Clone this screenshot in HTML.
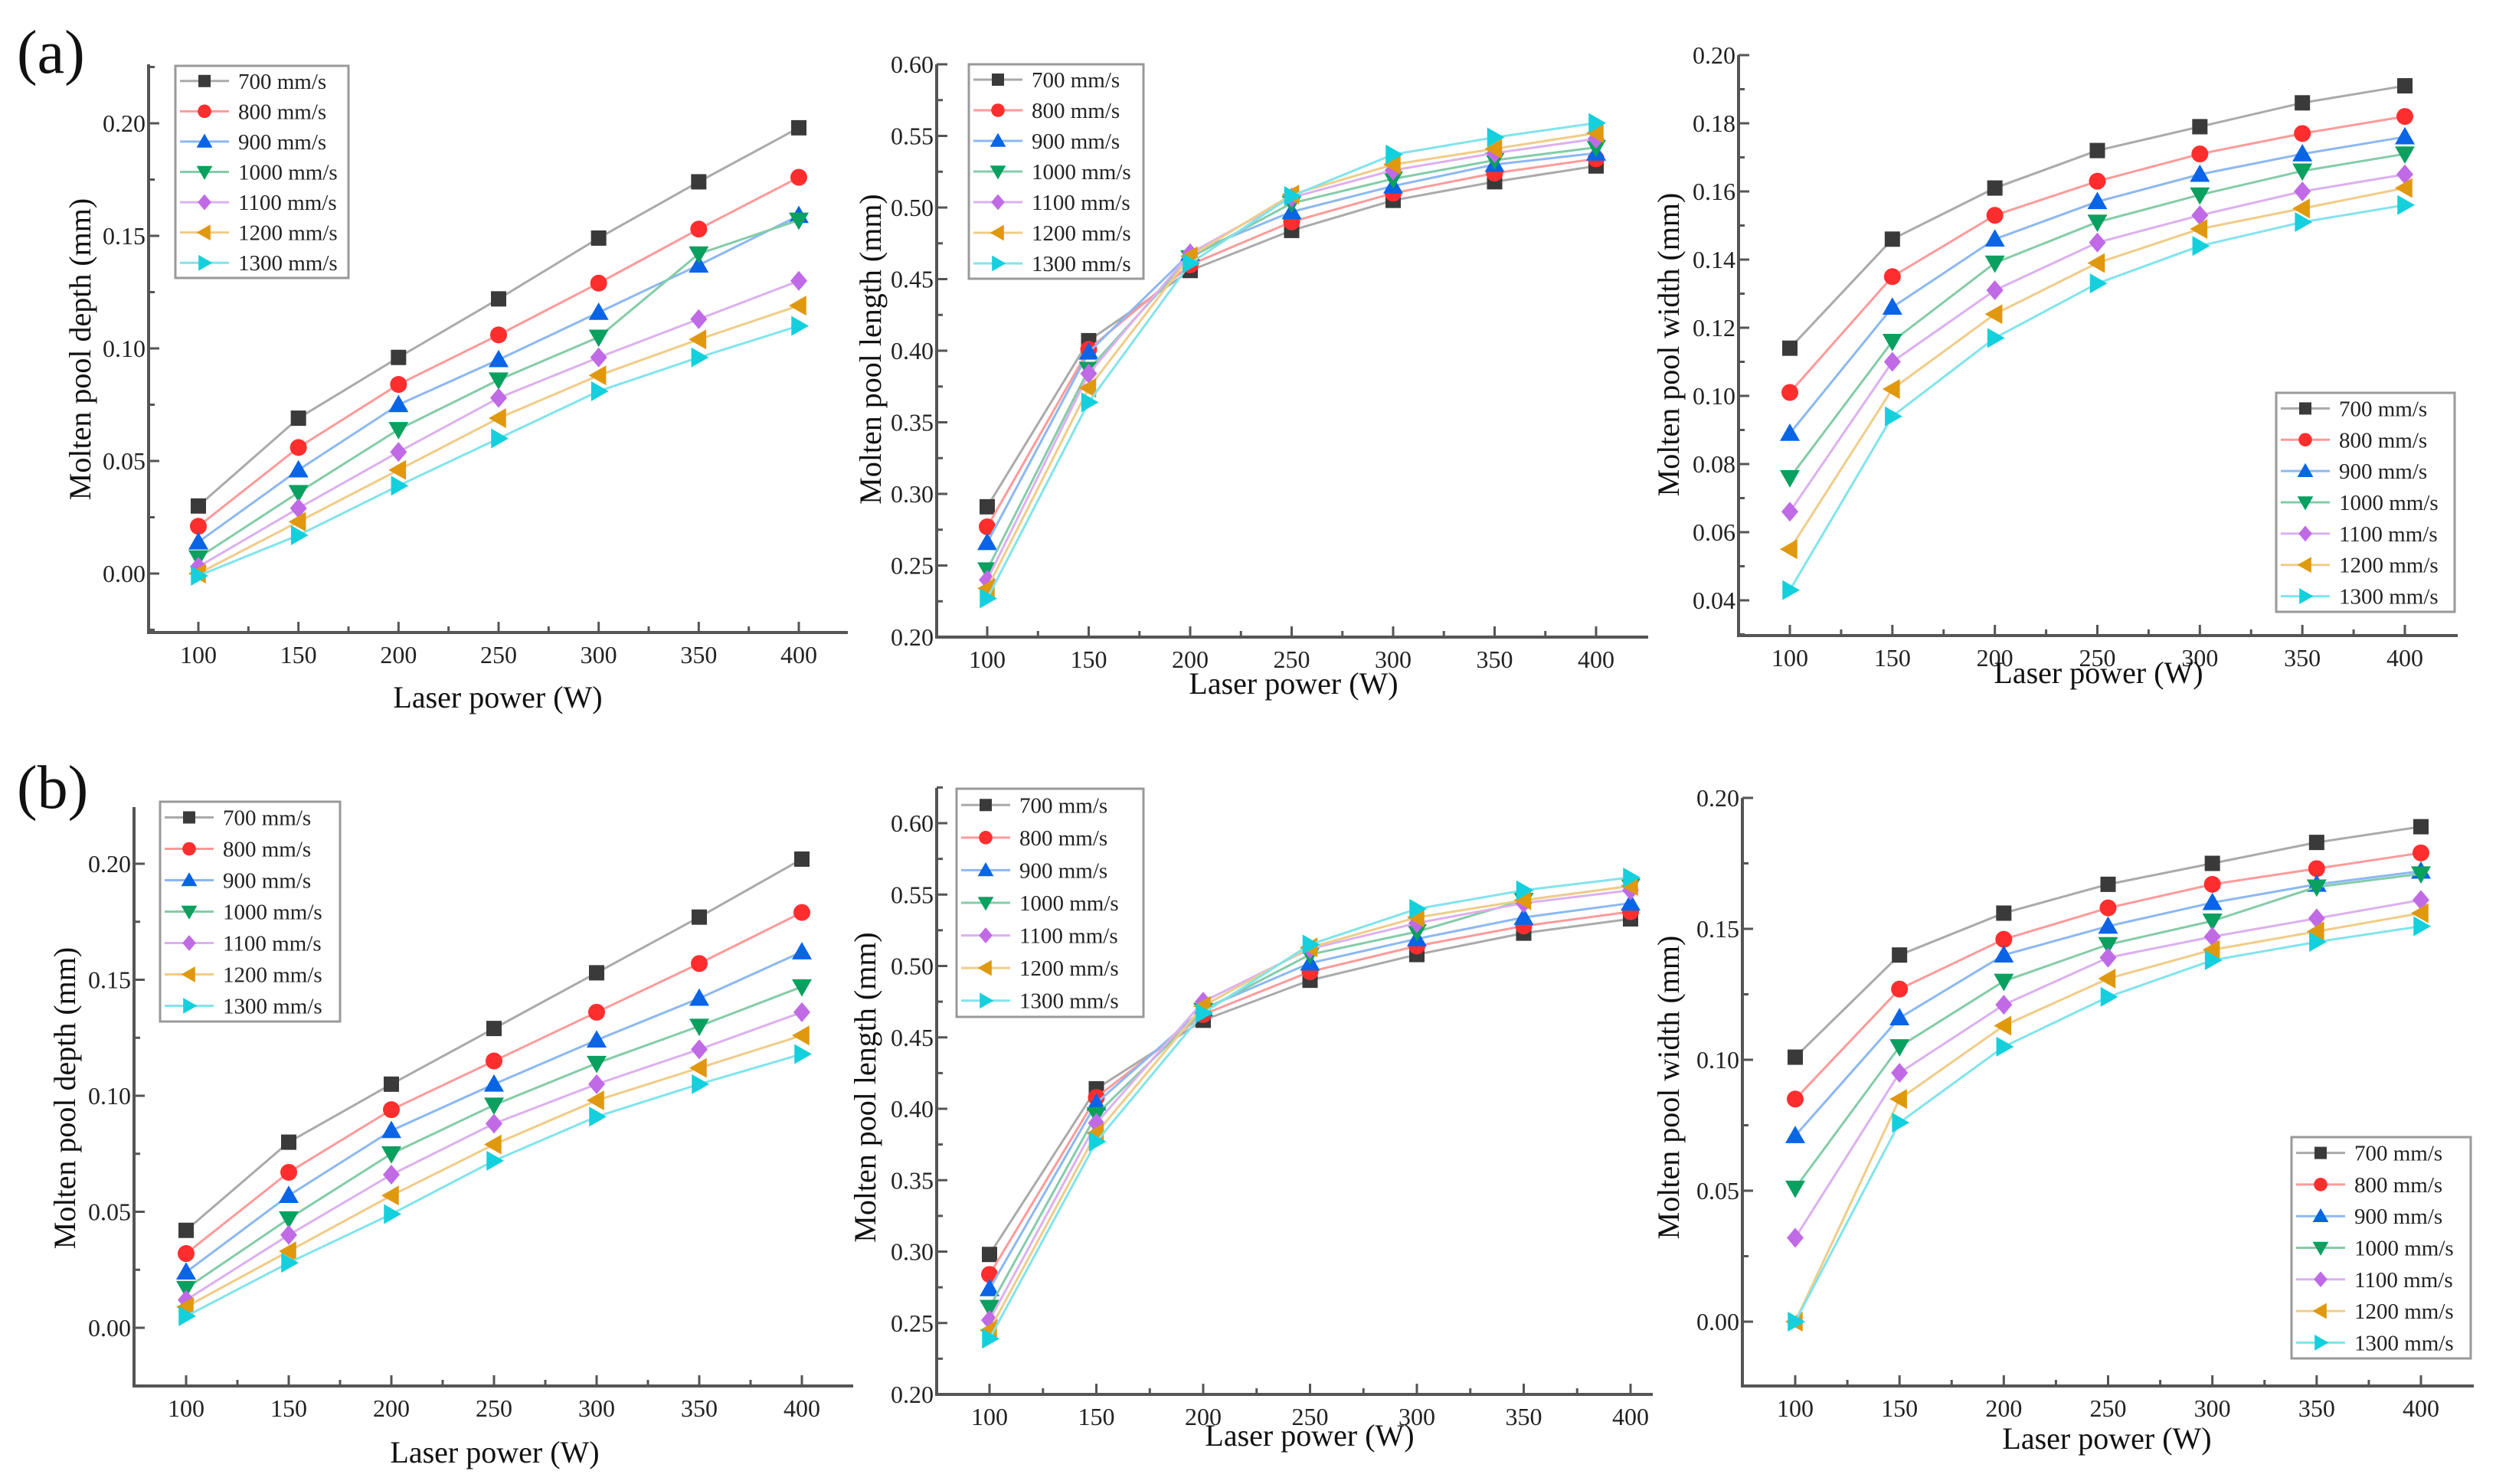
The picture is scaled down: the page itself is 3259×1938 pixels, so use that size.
<!DOCTYPE html>
<html><head><meta charset="utf-8"><style>
html,body{margin:0;padding:0;background:#fff;}
svg{display:block;font-family:"Liberation Serif","DejaVu Serif",serif;}
svg text{font-family:"Liberation Serif","DejaVu Serif",serif;}
</style></head><body>
<svg id="fig" width="3259" height="1938" viewBox="0 0 3259 1938" xmlns="http://www.w3.org/2000/svg" font-family="Liberation Serif, DejaVu Serif, serif">
<rect width="3259" height="1938" fill="#fff"/>
<text x="22" y="95" font-size="80" fill="#111" font-family="Liberation Serif, serif">(a)</text>
<text x="22" y="1055" font-size="80" fill="#111" font-family="Liberation Serif, serif">(b)</text>
</svg>
<script>
const xValues = [100,150,200,250,300,350,400];
const seriesNames = ["700 mm/s","800 mm/s","900 mm/s","1000 mm/s","1100 mm/s","1200 mm/s","1300 mm/s"];
const depthA = [
 [.030,.069,.096,.122,.149,.174,.198],
 [.021,.056,.084,.106,.129,.153,.176],
 [.014,.046,.075,.095,.116,.137,.159],
 [.007,.036,.064,.086,.105,.142,.157],
 [.003,.029,.054,.078,.096,.113,.130],
 [.000,.023,.046,.069,.088,.104,.119],
 [-.001,.017,.039,.060,.081,.096,.110]];
const lengthA = [
 [.291,.407,.456,.484,.505,.518,.529],
 [.277,.401,.460,.490,.510,.524,.534],
 [.266,.399,.468,.497,.515,.530,.538],
 [.247,.387,.465,.503,.520,.533,.542],
 [.240,.384,.468,.507,.526,.538,.548],
 [.234,.374,.466,.509,.530,.541,.552],
 [.227,.364,.461,.508,.537,.549,.559]];
const widthA = [
 [.114,.146,.161,.172,.179,.186,.191],
 [.101,.135,.153,.163,.171,.177,.182],
 [.089,.126,.146,.157,.165,.171,.176],
 [.076,.116,.139,.151,.159,.166,.171],
 [.066,.110,.131,.145,.153,.160,.165],
 [.055,.102,.124,.139,.149,.155,.161],
 [.043,.094,.117,.133,.144,.151,.156]];
const depthB = [
 [.042,.080,.105,.129,.153,.177,.202],
 [.032,.067,.094,.115,.136,.157,.179],
 [.024,.057,.085,.105,.124,.142,.162],
 [.017,.047,.075,.096,.114,.130,.147],
 [.012,.040,.066,.088,.105,.120,.136],
 [.009,.033,.057,.079,.098,.112,.126],
 [.005,.028,.049,.072,.091,.105,.118]];
const lengthB = [
 [.298,.414,.462,.490,.508,.523,.533],
 [.284,.408,.466,.496,.514,.528,.538],
 [.274,.404,.470,.502,.519,.534,.544],
 [.261,.396,.469,.508,.524,.546,.556],
 [.252,.390,.475,.512,.530,.544,.553],
 [.245,.383,.472,.513,.534,.546,.556],
 [.239,.377,.467,.515,.540,.553,.562]];
const widthB = [
 [.101,.140,.156,.167,.175,.183,.189],
 [.085,.127,.146,.158,.167,.173,.179],
 [.071,.116,.140,.151,.160,.167,.172],
 [.051,.105,.130,.144,.153,.166,.171],
 [.032,.095,.121,.139,.147,.154,.161],
 [.000,.085,.113,.131,.142,.149,.156],
 [.000,.076,.105,.124,.138,.145,.151]];
const yTicksDepth = [0,0.05,0.10,0.15,0.20];
const yTicksLength = [0.20,0.25,0.30,0.35,0.40,0.45,0.50,0.55,0.60];
const yTicksWidthA = [0.04,0.06,0.08,0.10,0.12,0.14,0.16,0.18,0.20];
const yTicksWidthB = [0,0.05,0.10,0.15,0.20];

const colors = ["#3a3a3a","#ff2e2e","#0a64e6","#0aa060","#c06ae6","#e0980e","#14d0dc"];
const lineColors = ["#aaaaaa","#ff9a9a","#8cb8f2","#84cca8","#dcb0f0","#f0cc88","#80e4ec"];
const shapes = ["square","circle","up","down","diamond","left","right"];
const NS = "http://www.w3.org/2000/svg";
const FF = "Liberation Serif, DejaVu Serif, serif";
const svg = document.getElementById("fig");
function mk(tag, attrs, parent){const e=document.createElementNS(NS,tag);for(const k in attrs)e.setAttribute(k,attrs[k]);if(tag==="text")e.setAttribute("font-family",FF);(parent||svg).appendChild(e);return e;}

function marker(g, shape, cx, cy, col, s){
  let e;
  if(shape==="square") e=mk("rect",{x:cx-s,y:cy-s,width:2*s,height:2*s,fill:col},g);
  else if(shape==="circle") e=mk("circle",{cx:cx,cy:cy,r:s*1.1,fill:col},g);
  else if(shape==="diamond") e=mk("polygon",{points:`${cx},${cy-s*1.3} ${cx+s*1.1},${cy} ${cx},${cy+s*1.3} ${cx-s*1.1},${cy}`,fill:col},g);
  else {
    const r=s*1.3; let p;
    if(shape==="up") p=[[cx,cy-r],[cx+r,cy+r*0.75],[cx-r,cy+r*0.75]];
    if(shape==="down") p=[[cx,cy+r],[cx+r,cy-r*0.75],[cx-r,cy-r*0.75]];
    if(shape==="left") p=[[cx-r,cy],[cx+r*0.75,cy-r],[cx+r*0.75,cy+r]];
    if(shape==="right") p=[[cx+r,cy],[cx-r*0.75,cy-r],[cx-r*0.75,cy+r]];
    e=mk("polygon",{points:p.map(q=>q.join(",")).join(" "),fill:col},g);
  }
  return e;
}

function panel(cfg){
  const g = mk("g",{});
  
  
  const X = v => cfg.x100 + (v-100)/300*(cfg.x400-cfg.x100);
  const Y = v => cfg.yLoPix + (v-cfg.yLo)/(cfg.yHi-cfg.yLo)*(cfg.yHiPix-cfg.yLoPix);
  const ax = mk("path",{d:`M${cfg.left},${cfg.top} L${cfg.left},${cfg.bottom} L${cfg.right},${cfg.bottom}`,fill:"none",stroke:"#555","stroke-width":4},g);
  
  
  for(let v=100; v<=400+1e-9; v+=25){
    const major = (v%50===0);
    mk("line",{x1:X(v),x2:X(v),y1:cfg.bottom,y2:cfg.bottom-(major?14:8),stroke:"#555","stroke-width":3},g);
  }
  xValues.forEach(v=>{
    const t=mk("text",{x:X(v),y:cfg.bottom+40,"font-size":32,"text-anchor":"middle",fill:"#222"},g);
    t.textContent=v;
    
    
  });
  const step = cfg.yTicks[1]-cfg.yTicks[0];
  for(let i=0;i<cfg.yTicks.length;i++){
    const v=cfg.yTicks[i];
    mk("line",{x1:cfg.left,x2:cfg.left+14,y1:Y(v),y2:Y(v),stroke:"#555","stroke-width":3},g);
    const mv=v+step/2; const py=Y(mv);
    if(py>=cfg.top-1) mk("line",{x1:cfg.left,x2:cfg.left+8,y1:py,y2:py,stroke:"#555","stroke-width":3},g);
    const py2=Y(v-step/2);
    if(i===0 && py2<=cfg.bottom) mk("line",{x1:cfg.left,x2:cfg.left+8,y1:py2,y2:py2,stroke:"#555","stroke-width":3},g);
    const t=mk("text",{x:cfg.left-4,y:Y(v)+11,"font-size":32,"text-anchor":"end",fill:"#222"},g);
    t.textContent=v.toFixed(2);
    
    
  }
  const xt=mk("text",{x:cfg.xtx,y:cfg.xty,"font-size":40,"text-anchor":"middle",fill:"#111"},g);
  xt.textContent="Laser power (W)";
  
  
  const yt=mk("text",{x:0,y:0,"font-size":40,"text-anchor":"middle",fill:"#111",transform:`translate(${cfg.ytx},${cfg.yty}) rotate(-90)`},g);
  yt.textContent=cfg.ytitle;
  
  
  cfg.data.forEach((vals,si)=>{
    const sg=mk("g",{},g);
    
    
    mk("polyline",{points:vals.map((v,i)=>X(xValues[i])+","+Y(v)).join(" "),fill:"none",stroke:lineColors[si],"stroke-width":3},sg);
    vals.forEach((v,i)=>{
      const m=marker(sg,shapes[si],X(xValues[i]),Y(v),colors[si],10);
      
      
    });
  });
  const L=cfg.legend;
  const lg=mk("g",{},g);
  
  
  mk("rect",{x:L.x,y:L.y,width:L.w,height:L.h,fill:"#fff",stroke:"#999","stroke-width":3},lg);
  const rowH=L.h/7;
  seriesNames.forEach((n,i)=>{
    const cy=L.y+rowH*(i+0.5);
    const eg=mk("g",{},lg);
    
    
    mk("line",{x1:L.x+6,x2:L.x+70,y1:cy,y2:cy,stroke:lineColors[i],"stroke-width":3},eg);
    marker(eg,shapes[i],L.x+38,cy,colors[i],8);
    const t=mk("text",{x:L.x+82,y:cy+10,"font-size":29,fill:"#222"},eg);
    t.textContent=n;
  });
}

panel({name:"chart-depth-a",left:194,right:1107,top:84,bottom:826,x100:259,x400:1043,yLo:0,yHi:0.20,yLoPix:749,yHiPix:161,
  yTicks:yTicksDepth,data:depthA,ytitle:"Molten pool depth (mm)",ytx:118,yty:456,xtx:650,xty:924,legend:{x:229,y:86,w:226,h:277}});
panel({name:"chart-length-a",left:1223,right:2152,top:84,bottom:832,x100:1289,x400:2084,yLo:0.20,yHi:0.60,yLoPix:832,yHiPix:84,
  yTicks:yTicksLength,data:lengthA,ytitle:"Molten pool length (mm)",ytx:1150,yty:456,xtx:1689,xty:906,legend:{x:1265,y:84,w:228,h:280}});
panel({name:"chart-width-a",left:2270,right:3209,top:72,bottom:830,x100:2337,x400:3140,yLo:0.04,yHi:0.20,yLoPix:784,yHiPix:72,
  yTicks:yTicksWidthA,data:widthA,ytitle:"Molten pool width (mm)",ytx:2192,yty:450,xtx:2740,xty:892,legend:{x:2972,y:513,w:233,h:286}});
panel({name:"chart-depth-b",left:175,right:1114,top:1054,bottom:1810,x100:243,x400:1047,yLo:0,yHi:0.20,yLoPix:1734,yHiPix:1128,
  yTicks:yTicksDepth,data:depthB,ytitle:"Molten pool depth (mm)",ytx:98,yty:1434,xtx:646,xty:1910,legend:{x:209,y:1047,w:235,h:287}});
panel({name:"chart-length-b",left:1223,right:2158,top:1029,bottom:1821,x100:1292,x400:2129,yLo:0.20,yHi:0.60,yLoPix:1821,yHiPix:1075,
  yTicks:yTicksLength,data:lengthB,ytitle:"Molten pool length (mm)",ytx:1143,yty:1420,xtx:1710,xty:1888,legend:{x:1249,y:1030,w:244,h:298}});
panel({name:"chart-width-b",left:2275,right:3230,top:1042,bottom:1810,x100:2344,x400:3161,yLo:0,yHi:0.20,yLoPix:1726,yHiPix:1042,
  yTicks:yTicksWidthB,data:widthB,ytitle:"Molten pool width (mm)",ytx:2192,yty:1420,xtx:2751,xty:1892,legend:{x:2992,y:1485,w:234,h:289}});
</script>
</body></html>
